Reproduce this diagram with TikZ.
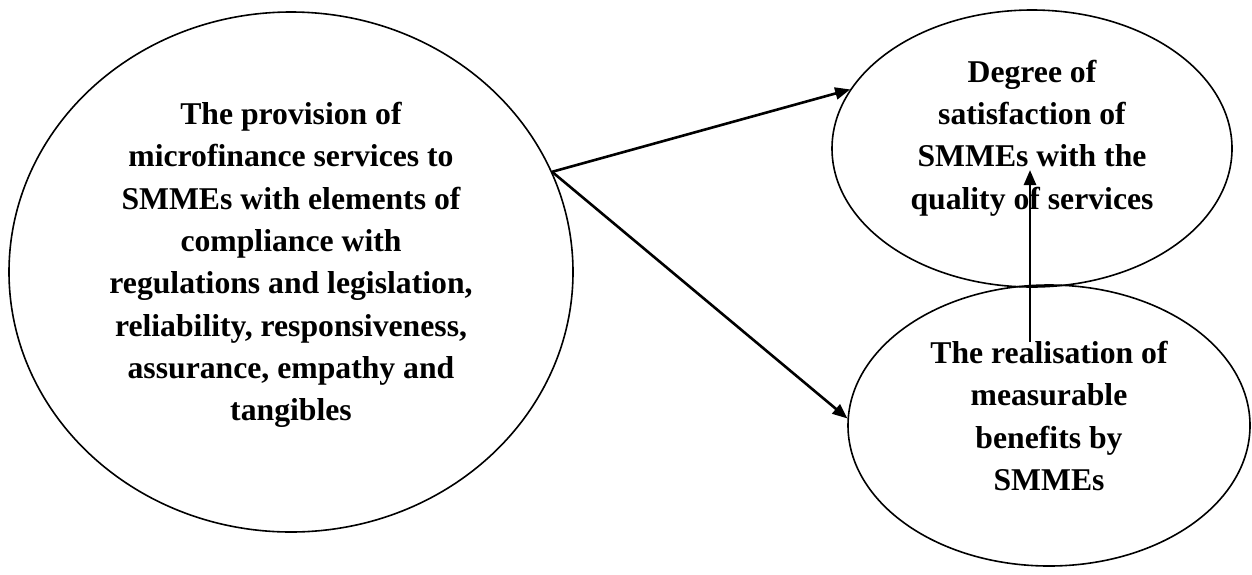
\documentclass[tikz,border=0pt]{standalone}
\usepackage{fontspec}
\setmainfont{Liberation Serif}
\usetikzlibrary{shapes.geometric,arrows.meta}

\begin{document}
\begin{tikzpicture}[x=1pt,y=-1pt,
    bubble/.style={draw, ellipse, line width=1.6pt, inner sep=0pt},
    bubbletext/.style={align=center, inner sep=0pt,
        font=\bfseries\fontsize{31.7}{42.3}\selectfont},
    link/.style={line width=2.6pt, -{Triangle[length=15pt,width=12pt]}}]
    \useasboundingbox (0,0) rectangle (1252,574);

    % the three ellipses
    \node[bubble, minimum width=564pt, minimum height=520pt] (prov) at (291,272) {};
    \node[bubble, minimum width=400pt, minimum height=277pt] (sat) at (1032,148.5) {};
    \node[bubble, minimum width=402pt, minimum height=281pt] (ben) at (1049,425.5) {};

    % their texts
    \node[bubbletext] (provtxt) at ([yshift=7pt]prov.center)
        {The provision of\\ microfinance services to\\ SMMEs with elements of\\ compliance with\\
         regulations and legislation,\\ reliability, responsiveness,\\ assurance, empathy and\\ tangibles};
    \node[bubbletext] (sattxt) at ([yshift=10.5pt]sat.center)
        {Degree of\\ satisfaction of\\ SMMEs with the\\ quality of services};
    \node[bubbletext] (bentxt) at ([yshift=9.5pt]ben.center)
        {The realisation of\\ measurable\\ benefits by\\ SMMEs};

    % arrows
    \draw[link] (prov.21) -- (sat.162);
    \draw[link] (prov.21) -- (ben.178);
    \coordinate (upfoot) at (1030,342);
    \coordinate (uptip) at (1030,170);
    \draw[link] (upfoot) -- (uptip);
\end{tikzpicture}
\end{document}
